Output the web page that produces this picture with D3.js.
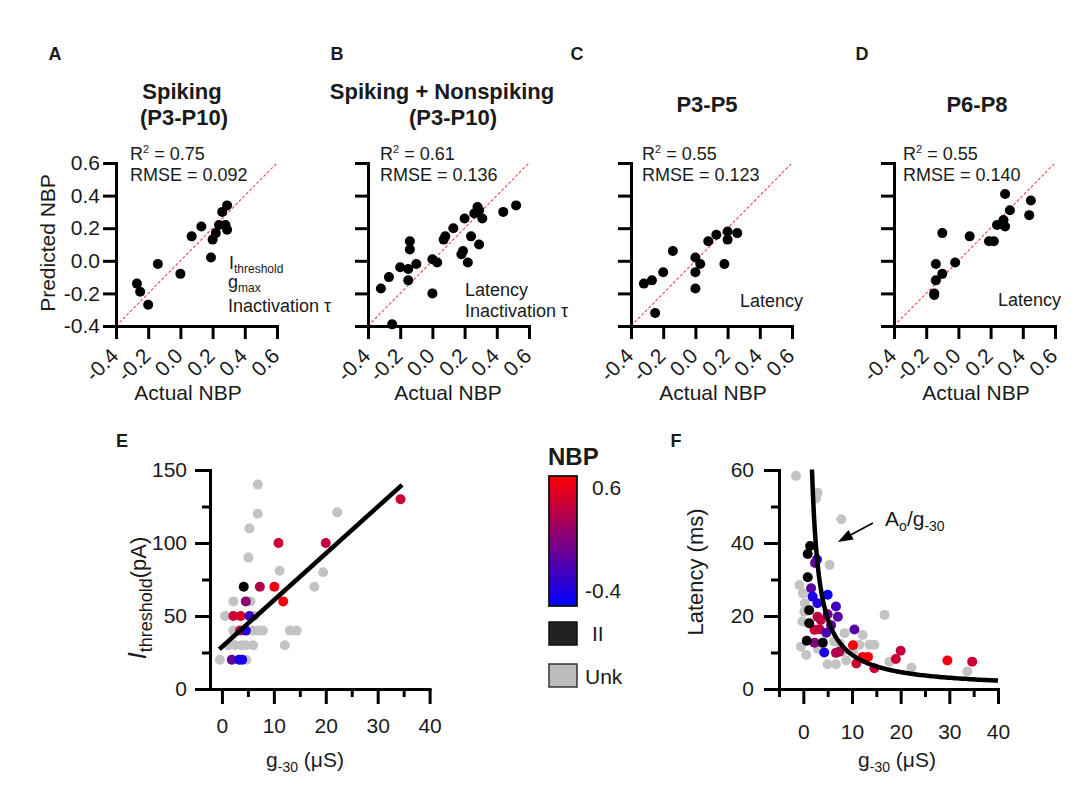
<!DOCTYPE html>
<html><head><meta charset="utf-8">
<script src="https://cdn.jsdelivr.net/npm/d3@7"></script>
<style>
body{margin:0;background:#fff}
svg{display:block}
text{font-family:"Liberation Sans",Arial,Helvetica,sans-serif;fill:#1a1a1a}
</style>
</head><body>
<svg id="c" width="1078" height="802"></svg>
<script>
// ---------- DATA ----------
const nbpTicks = [-0.4, -0.2, 0.0, 0.2, 0.4, 0.6];
const nbpTickLabels = ["-0.4", "-0.2", "0.0", "0.2", "0.4", "0.6"];

// Panel A: Spiking (P3-P10)
const aActual = [-0.27,-0.25,-0.20,-0.14,0.00,0.07,0.13,0.19,0.20,0.22,0.24,0.26,0.29,0.28,0.29];
const aPred   = [-0.14,-0.19,-0.27,-0.02,-0.08,0.15,0.21,0.02,0.13,0.17,0.22,0.30,0.34,0.22,0.19];
// Panel B: Spiking + Nonspiking (P3-P10)
const bActual = [-0.32,-0.27,-0.25,-0.20,-0.15,-0.15,-0.14,-0.14,-0.10,0.00,0.03,0.00,0.07,0.08,0.13,0.18,0.19,0.20,0.22,0.24,0.26,0.28,0.29,0.29,0.31,0.44,0.52];
const bPred   = [-0.17,-0.10,-0.39,-0.04,-0.05,-0.12,0.12,0.07,-0.02,0.01,-0.01,-0.20,0.13,0.15,0.20,0.04,0.06,0.26,-0.01,0.15,0.29,0.33,0.31,0.10,0.26,0.30,0.34];
// Panel C: P3-P5
const cActual = [-0.32,-0.27,-0.25,-0.20,-0.14,0.00,0.00,0.00,0.03,0.08,0.13,0.18,0.20,0.20,0.26];
const cPred   = [-0.14,-0.12,-0.32,-0.07,0.06,0.02,-0.07,-0.17,-0.02,0.12,0.16,-0.02,0.18,0.13,0.17];
// Panel D: P6-P8
const dActual = [-0.15,-0.15,-0.14,-0.14,-0.10,-0.10,-0.02,0.07,0.19,0.22,0.24,0.28,0.29,0.29,0.32,0.44,0.45];
const dPred   = [-0.20,-0.21,-0.12,-0.02,-0.08,0.17,-0.01,0.15,0.12,0.12,0.22,0.25,0.21,0.41,0.31,0.28,0.37];

// Panel E: g-30 (uS) vs I threshold (pA)
const eGrayG = [-0.4,4.7,0.6,2.2,5.5,6.9,6.9,5.3,5.1,11.1,2.2,5.9,7.0,7.9,13.1,14.4,1.2,2.5,3.8,4.7,6.0,12.1,17.8,19.5,22.2,6.3];
const eGrayI = [20,20,50,60,60,140,120,110,90,81,40,40,40,40,40,40,30,30,30,30,30,30,70,80,121,50];
const eBlackG = [4.2];
const eBlackI = [70];
const eColG   = [7.3,10.1,10.9,11.8,4.6,2.2,3.6,5.3,3.5,4.6,1.9,3.3,3.9,34.4,20.0];
const eColI   = [70,70,100,60,60,50,50,50,40,40,20,20,20,130,100];
const eColNBP = [0.30,0.55,0.40,0.55,0.15,0.40,0.45,-0.15,0.35,-0.25,0.00,-0.30,-0.30,0.40,0.35];
const eFit = {intercept: 28.8, slope: 3.2, from: -0.5, to: 34.7};

// Panel F: g-30 (uS) vs Latency (ms)
const fGrayG = [-1.5,2.9,2.6,7.8,5.4,-0.8,-0.1,0.2,-0.2,-0.5,0.6,16.7,8.5,12.2,11.5,13.6,14.6,5.0,6.7,8.8,8.1,10.2,22.2,33.7,17.7,6.3,7.5,3.0,0.3];
const fGrayL = [58.4,53.8,52.2,46.5,34.0,28.5,26.2,21.2,18.5,11.6,9.3,20.3,15.3,14.8,12.1,12.1,12.1,6.8,6.8,7.8,10.2,10.2,5.8,4.8,7.5,13.0,12.5,11.0,23.5];
const fBlackG = [1.4,0.9,0.9,1.2,1.2,0.7,4.0];
const fBlackL = [39.2,37.0,30.6,21.6,18.0,13.2,12.7];
const fColG   = [2.8,2.4,1.6,1.9,5.0,2.9,6.7,7.1,2.9,3.6,5.0,5.7,2.3,3.3,4.7,10.5,2.3,4.3,6.7,7.4,10.2,10.9,12.2,13.3,14.6,20.0,19.0,29.6,34.7];
const fColL   = [35.5,34.5,27.6,25.3,25.8,23.5,22.6,19.8,19.8,18.9,20.5,17.5,16.2,16.4,15.4,16.3,12.7,10.0,9.9,10.2,12.0,7.0,8.8,8.8,5.7,10.5,8.2,7.8,7.5];
const fColNBP = [-0.30,0.00,-0.05,-0.30,-0.35,-0.25,-0.15,-0.05,0.30,0.35,0.00,-0.05,0.40,0.35,-0.10,-0.05,0.10,-0.30,0.30,0.30,0.55,0.40,0.55,0.60,0.40,0.35,0.40,0.55,0.40];
const fFit = {A: 91.4, offset: 0.26, from: 1.78, to: 40};

const eYTicks = [0, 50, 100, 150], eYMinor = [25, 75, 125];
const eXTicks = [0, 10, 20, 30, 40], eXMinor = [5, 15, 25, 35];
const fYTicks = [0, 20, 40, 60], fYMinor = [10, 30, 50];
const fXTicks = [0, 10, 20, 30, 40], fXMinor = [-5, 5, 15, 25, 35];
const legendTicks = [0.6, -0.4], legendTickLabels = ["0.6", "-0.4"];

// ---------- DRAW ----------
const svg = d3.select("#c");
svg.append("rect").attr("width", 1078).attr("height", 802).attr("fill", "#fff");
const FONT = '"Liberation Sans",Arial,Helvetica,sans-serif';
const color = d3.scaleLinear().domain([-0.4, 0.6]).range(["#0000ff", "#ff0000"]).clamp(true);
const R = 5;

function styleAxis(g, fs) {
  g.attr("font-family", FONT).attr("font-size", fs);
  g.selectAll("path.domain").attr("stroke", "#000").attr("stroke-width", 3).attr("stroke-linecap", "square");
  g.selectAll(".tick line").attr("stroke", "#000").attr("stroke-width", 3);
  g.selectAll(".tick text").attr("fill", "#1a1a1a");
}

const panels = [
  {letter: "A", lx: 55, x0: 116, title: ["Spiking", "(P3-P10)"], tx: [182, 184], ty: [99, 125],
   r2: "0.75", rmse: "0.092", sx: 130, xs: aActual, ys: aPred, xl: 188, ylab: true},
  {letter: "B", lx: 337, x0: 368, title: ["Spiking + Nonspiking", "(P3-P10)"], tx: [442, 453], ty: [99, 125],
   r2: "0.61", rmse: "0.136", sx: 380, xs: bActual, ys: bPred, xl: 448, ylab: false},
  {letter: "C", lx: 577, x0: 631, title: ["P3-P5"], tx: [707], ty: [112],
   r2: "0.55", rmse: "0.123", sx: 642, xs: cActual, ys: cPred, xl: 713, ylab: false},
  {letter: "D", lx: 862, x0: 894, title: ["P6-P8"], tx: [977], ty: [112],
   r2: "0.55", rmse: "0.140", sx: 903, xs: dActual, ys: dPred, xl: 976, ylab: false}
];

panels.forEach((p) => {
  const x = d3.scaleLinear().domain([-0.4, 0.6]).range([p.x0, p.x0 + 161]);
  const y = d3.scaleLinear().domain([-0.4, 0.6]).range([326, 163]);
  const g = svg.append("g");
  svg.append("text").attr("x", p.lx).attr("y", 60).attr("text-anchor", "middle")
    .attr("font-weight", "bold").attr("font-size", 18).text(p.letter);
  p.title.forEach((t, i) => {
    svg.append("text").attr("x", p.tx[i]).attr("y", p.ty[i]).attr("text-anchor", "middle")
      .attr("font-weight", "bold").attr("font-size", 22).text(t);
  });
  g.append("line").attr("x1", x(-0.4)).attr("y1", y(-0.4)).attr("x2", x(0.6)).attr("y2", y(0.6))
    .attr("stroke", "#f24a4a").attr("stroke-width", 1.1).attr("stroke-dasharray", "3,2");
  const ya = g.append("g").attr("transform", `translate(${p.x0},0)`)
    .call(d3.axisLeft(y).tickValues(nbpTicks).tickSize(13).tickSizeOuter(0).tickPadding(3)
      .tickFormat((d, i) => p.ylab ? nbpTickLabels[i] : ""));
  styleAxis(ya, 21);
  const xa = g.append("g").attr("transform", `translate(0,326)`)
    .call(d3.axisBottom(x).tickValues(nbpTicks).tickSize(13).tickSizeOuter(0)
      .tickFormat((d, i) => nbpTickLabels[i]));
  styleAxis(xa, 21);
  xa.selectAll(".tick text").attr("text-anchor", "end").attr("y", 0).attr("dy", "0.35em")
    .attr("transform", "translate(-2,26) rotate(-45)");
  g.selectAll("circle.pt").data(p.xs.map((v, i) => [v, p.ys[i]])).join("circle")
    .attr("cx", d => x(d[0])).attr("cy", d => y(d[1])).attr("r", R).attr("fill", "#000");
  const t1 = svg.append("text").attr("x", p.sx).attr("y", 160).attr("font-size", 18);
  t1.append("tspan").text("R");
  t1.append("tspan").attr("font-size", 11).attr("dy", -7).text("2");
  t1.append("tspan").attr("dy", 7).text(" = " + p.r2);
  svg.append("text").attr("x", p.sx).attr("y", 181).attr("font-size", 18).text("RMSE = " + p.rmse);
  svg.append("text").attr("x", p.xl).attr("y", 400).attr("text-anchor", "middle").attr("font-size", 21).text("Actual NBP");
  if (p.ylab) {
    svg.append("text").attr("transform", "translate(55,243) rotate(-90)").attr("text-anchor", "middle")
      .attr("font-size", 21).text("Predicted NBP");
  }
});

// annotations in A-D
(function () {
  const fs = 18;
  let t = svg.append("text").attr("x", 229).attr("y", 269).attr("font-size", fs);
  t.append("tspan").text("I");
  t.append("tspan").attr("font-size", 12).attr("dy", 4).text("threshold");
  t = svg.append("text").attr("x", 228).attr("y", 288).attr("font-size", fs);
  t.append("tspan").text("g");
  t.append("tspan").attr("font-size", 12).attr("dy", 4).text("max");
  svg.append("text").attr("x", 228).attr("y", 312).attr("font-size", fs).text("Inactivation τ");
  svg.append("text").attr("x", 465).attr("y", 296).attr("font-size", fs).text("Latency");
  svg.append("text").attr("x", 465).attr("y", 317).attr("font-size", fs).text("Inactivation τ");
  svg.append("text").attr("x", 740).attr("y", 307).attr("font-size", fs).text("Latency");
  svg.append("text").attr("x", 998).attr("y", 306).attr("font-size", fs).text("Latency");
})();

function scatterLayer(g, x, y, gray, col, blk) {
  g.selectAll("circle.g").data(gray).join("circle").attr("class", "g").attr("cx", d => x(d[0])).attr("cy", d => y(d[1])).attr("r", R).attr("fill", "#c3c3c3");
  g.selectAll("circle.c").data(col).join("circle").attr("class", "c").attr("cx", d => x(d[0])).attr("cy", d => y(d[1])).attr("r", R).attr("fill", d => color(d[2]));
  g.selectAll("circle.b").data(blk).join("circle").attr("class", "b").attr("cx", d => x(d[0])).attr("cy", d => y(d[1])).attr("r", R).attr("fill", "#000");
}

function gLabel(cx, cy) {
  const xl = svg.append("text").attr("x", cx).attr("y", cy).attr("text-anchor", "middle").attr("font-size", 21);
  xl.append("tspan").text("g");
  xl.append("tspan").attr("font-size", 14).attr("dy", 5).text("-30");
  xl.append("tspan").attr("dy", -5).text(" (μS)");
}

// ---------- Panel E ----------
(function () {
  const x = d3.scaleLinear().domain([-2.3, 40]).range([210, 429.6]);
  const y = d3.scaleLinear().domain([0, 150]).range([689, 470]);
  const g = svg.append("g");
  svg.append("text").attr("x", 122).attr("y", 447).attr("text-anchor", "middle")
    .attr("font-weight", "bold").attr("font-size", 18).text("E");
  scatterLayer(g, x, y,
    eGrayG.map((v, i) => [v, eGrayI[i]]),
    eColG.map((v, i) => [v, eColI[i], eColNBP[i]]),
    eBlackG.map((v, i) => [v, eBlackI[i]]));
  g.append("line").attr("x1", x(eFit.from)).attr("y1", y(eFit.intercept + eFit.slope * eFit.from))
    .attr("x2", x(eFit.to)).attr("y2", y(eFit.intercept + eFit.slope * eFit.to))
    .attr("stroke", "#000").attr("stroke-width", 4.5);
  const ya = g.append("g").attr("transform", "translate(210,0)")
    .call(d3.axisLeft(y).tickValues(eYTicks).tickSize(15).tickSizeOuter(0).tickPadding(8));
  styleAxis(ya, 21);
  const ym = g.append("g").attr("transform", "translate(210,0)")
    .call(d3.axisLeft(y).tickValues(eYMinor).tickSize(8).tickFormat(""));
  styleAxis(ym, 21); ym.select("path.domain").remove();
  const xa = g.append("g").attr("transform", "translate(0,689)")
    .call(d3.axisBottom(x).tickValues(eXTicks).tickSize(15).tickSizeOuter(0).tickPadding(14));
  styleAxis(xa, 21);
  const xm = g.append("g").attr("transform", "translate(0,689)")
    .call(d3.axisBottom(x).tickValues(eXMinor).tickSize(8).tickFormat(""));
  styleAxis(xm, 21); xm.select("path.domain").remove();
  const yl = svg.append("text").attr("transform", "translate(146,598) rotate(-90)").attr("text-anchor", "middle").attr("font-size", 22);
  yl.append("tspan").attr("font-style", "italic").attr("font-size", 25).text("I");
  yl.append("tspan").attr("font-size", 18).attr("dy", 6).text("threshold");
  yl.append("tspan").attr("dy", -6).text("(pA)");
  gLabel(305, 767);
})();

// ---------- Panel F ----------
(function () {
  const x = d3.scaleLinear().domain([-5, 40]).range([779, 998]);
  const y = d3.scaleLinear().domain([0, 60]).range([689, 470]);
  const g = svg.append("g");
  svg.append("text").attr("x", 676).attr("y", 447).attr("text-anchor", "middle")
    .attr("font-weight", "bold").attr("font-size", 18).text("F");
  scatterLayer(g, x, y,
    fGrayG.map((v, i) => [v, fGrayL[i]]),
    fColG.map((v, i) => [v, fColL[i], fColNBP[i]]),
    fBlackG.map((v, i) => [v, fBlackL[i]]));
  const fx = d3.scaleLog().domain([fFit.from, fFit.to]).range([0, 1]);
  const curvePts = d3.range(0, 1.0001, 0.005).map(t => { const gv = fx.invert(t); return [gv, fFit.A / (gv - fFit.offset)]; });
  g.append("path").datum(curvePts)
    .attr("d", d3.line().x(d => x(d[0])).y(d => y(d[1])).curve(d3.curveBasis))
    .attr("fill", "none").attr("stroke", "#000").attr("stroke-width", 4.5);
  const ya = g.append("g").attr("transform", "translate(779,0)")
    .call(d3.axisLeft(y).tickValues(fYTicks).tickSize(15).tickSizeOuter(0).tickPadding(10));
  styleAxis(ya, 21);
  const ym = g.append("g").attr("transform", "translate(779,0)")
    .call(d3.axisLeft(y).tickValues(fYMinor).tickSize(8).tickFormat(""));
  styleAxis(ym, 21); ym.select("path.domain").remove();
  const xa = g.append("g").attr("transform", "translate(0,689)")
    .call(d3.axisBottom(x).tickValues(fXTicks).tickSize(15).tickSizeOuter(0).tickPadding(20));
  styleAxis(xa, 21);
  const xm = g.append("g").attr("transform", "translate(0,689)")
    .call(d3.axisBottom(x).tickValues(fXMinor).tickSize(8).tickFormat(""));
  styleAxis(xm, 21); xm.select("path.domain").remove();
  svg.append("text").attr("transform", "translate(703,572) rotate(-90)").attr("text-anchor", "middle")
    .attr("font-size", 22).text("Latency (ms)");
  gLabel(897, 767);
  const tip = [x(7.1), y(40.3)], st = [x(14.3), y(45.5)];
  const dx = tip[0] - st[0], dy = tip[1] - st[1], L = Math.hypot(dx, dy);
  const ux = dx / L, uy = dy / L, hl = 15, hw = 5.5;
  const bx = tip[0] - ux * hl, by = tip[1] - uy * hl;
  g.append("line").attr("x1", st[0]).attr("y1", st[1]).attr("x2", bx).attr("y2", by).attr("stroke", "#000").attr("stroke-width", 1.6);
  g.append("polygon").attr("points", [[tip[0], tip[1]], [bx - uy * hw, by + ux * hw], [bx + uy * hw, by - ux * hw]].map(p => p.join(",")).join(" ")).attr("fill", "#000");
  const al = svg.append("text").attr("x", x(16.8)).attr("y", y(44.7)).attr("font-size", 21);
  al.append("tspan").text("A");
  al.append("tspan").attr("font-size", 14).attr("dy", 5).text("o");
  al.append("tspan").attr("dy", -5).text("/g");
  al.append("tspan").attr("font-size", 14).attr("dy", 5).text("-30");
})();

// ---------- Legend ----------
(function () {
  const lg = svg.append("g");
  lg.append("text").attr("x", 548).attr("y", 465).attr("font-weight", "bold").attr("font-size", 24).attr("fill", "#000").text("NBP");
  const ly = d3.scaleLinear().domain([-0.4, 0.6]).range([606, 476]);
  const defs = svg.append("defs");
  const grad = defs.append("linearGradient").attr("id", "nbpgrad").attr("x1", 0).attr("y1", 1).attr("x2", 0).attr("y2", 0);
  d3.range(0, 1.0001, 0.1).forEach(t => {
    grad.append("stop").attr("offset", t).attr("stop-color", color(-0.4 + t));
  });
  lg.append("rect").attr("x", 549).attr("y", ly(0.6)).attr("width", 28).attr("height", ly(-0.4) - ly(0.6))
    .attr("fill", "url(#nbpgrad)").attr("stroke", "#111").attr("stroke-width", 1.8);
  legendTicks.forEach((v, i) => {
    lg.append("text").attr("x", i === 0 ? 592 : 585).attr("y", ly(v) + (i === 0 ? 19 : -8)).attr("font-size", 21).text(legendTickLabels[i]);
  });
  lg.append("rect").attr("x", 549).attr("y", 622).attr("width", 28).attr("height", 23).attr("fill", "#222").attr("stroke", "#111").attr("stroke-width", 1.5);
  lg.append("text").attr("x", 592).attr("y", 641).attr("font-size", 21).text("II");
  lg.append("rect").attr("x", 549).attr("y", 664).attr("width", 28).attr("height", 23).attr("fill", "#bdbdbd").attr("stroke", "#333").attr("stroke-width", 1.5);
  lg.append("text").attr("x", 585).attr("y", 684).attr("font-size", 21).text("Unk");
})();
</script>
</body></html>
